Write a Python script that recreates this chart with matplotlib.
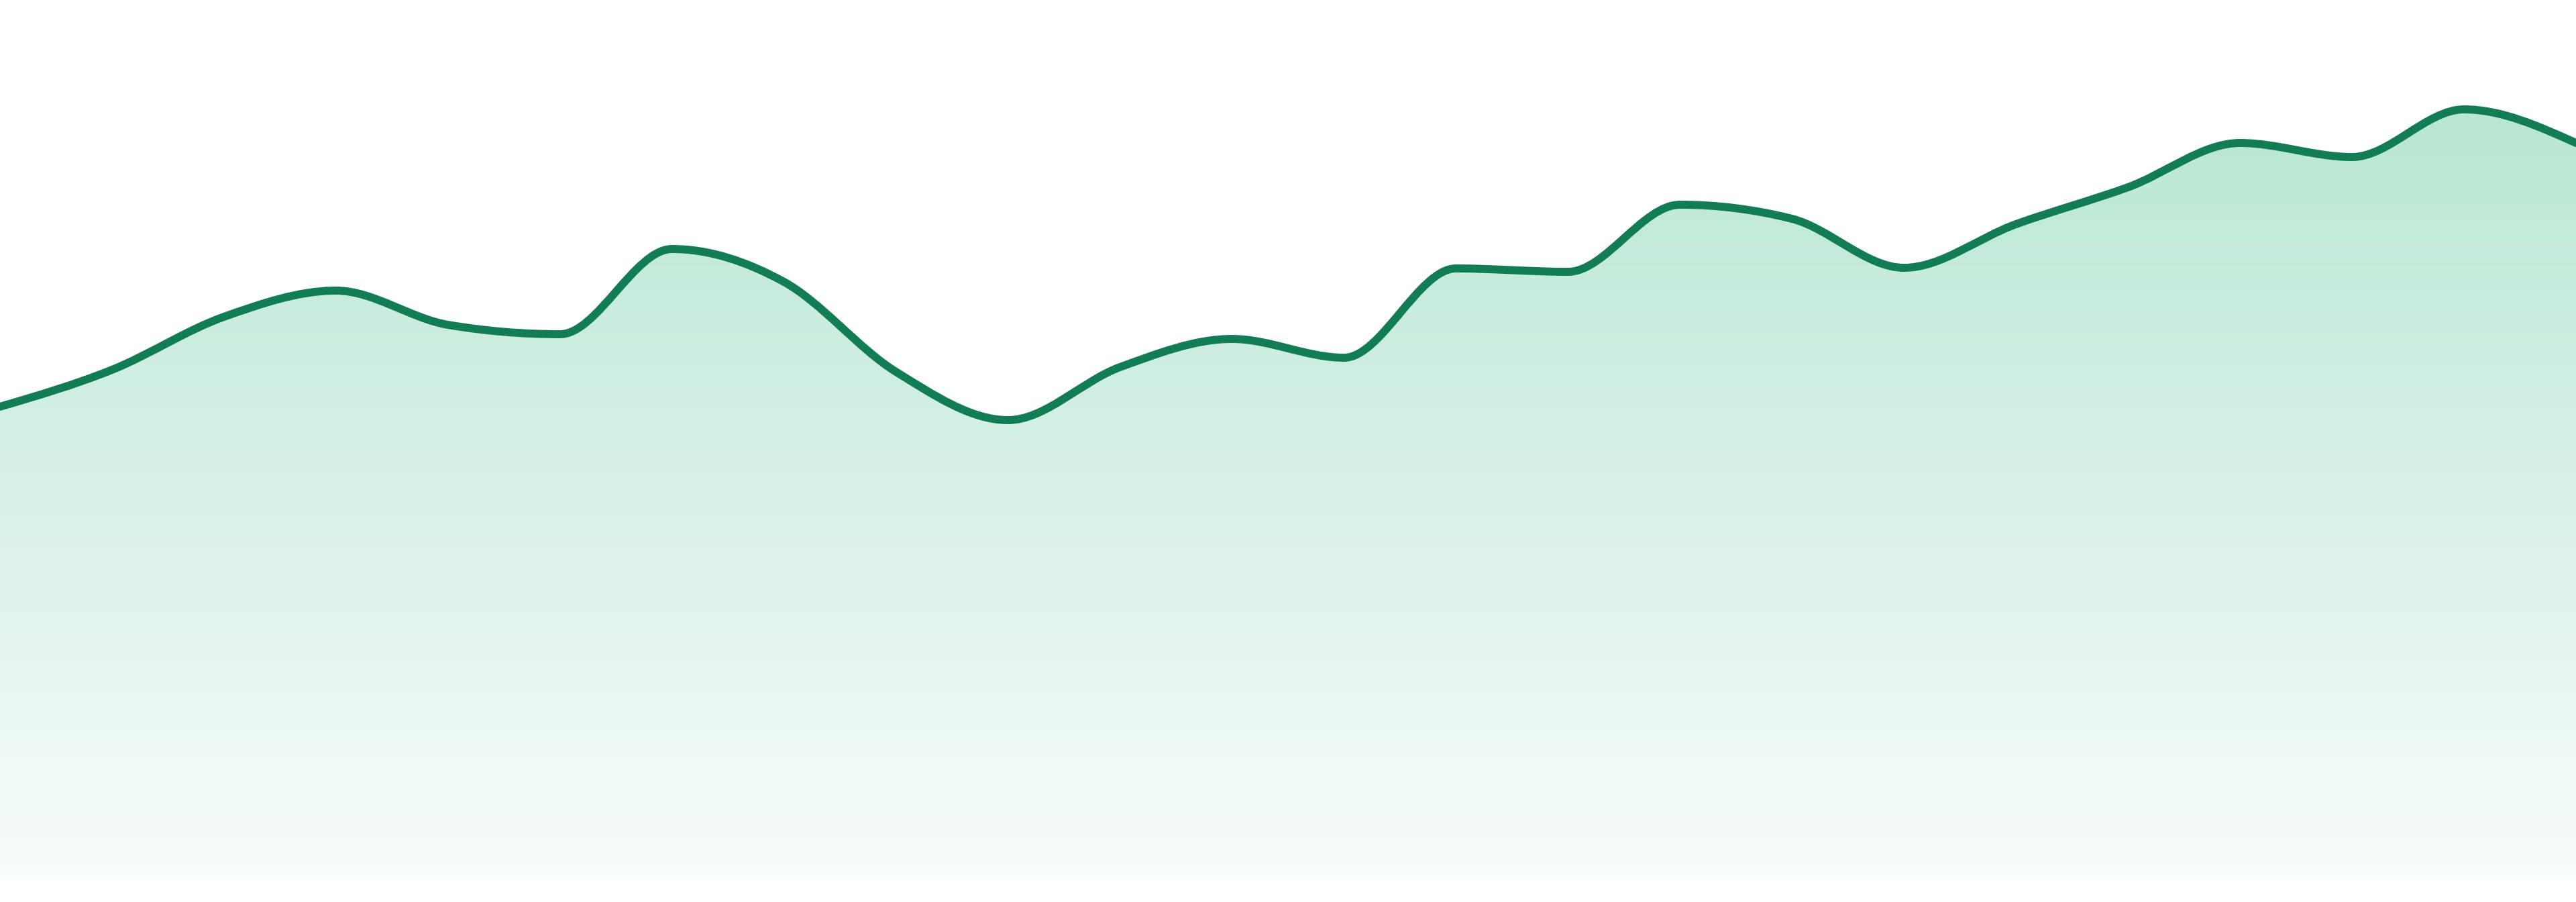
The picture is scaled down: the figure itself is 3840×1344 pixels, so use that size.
import numpy as np
import matplotlib
matplotlib.use("Agg")
import matplotlib.pyplot as plt
from matplotlib.path import Path
from matplotlib.patches import PathPatch
from matplotlib.colors import to_rgb

# values, one per step (24 steps)
steps = list(range(24))
values = [69.9, 75.4, 83.3, 87.2, 82.1, 80.7, 93.4, 88.5, 75.1, 67.9, 75.8, 80.0,
          77.2, 90.5, 90.0, 100.0, 97.9, 90.6, 97.1, 102.6, 109.2, 107.1, 114.2, 109.2]

y_max = 130.5
line_color = "#127c52"
fill_top = "#b8e7d3"
fill_bottom = "#f8fcfa"


def monotone_slopes(x, y):
    "slopes like d3 curveMonotoneX (Steffen)"
    n = len(x)
    t = np.zeros(n)
    for i in range(1, n - 1):
        h0 = x[i] - x[i - 1]
        h1 = x[i + 1] - x[i]
        s0 = (y[i] - y[i - 1]) / h0
        s1 = (y[i + 1] - y[i]) / h1
        p = (s0 * h1 + s1 * h0) / (h0 + h1)
        t[i] = (np.sign(s0) + np.sign(s1)) * min(abs(s0), abs(s1), 0.5 * abs(p))
    h = x[1] - x[0]
    t[0] = (3 * (y[1] - y[0]) / h - t[1]) / 2
    h = x[-1] - x[-2]
    t[-1] = (3 * (y[-1] - y[-2]) / h - t[-2]) / 2
    return t


def curve_path(x, y, close_bottom=False):
    t = monotone_slopes(x, y)
    verts = [(x[0], y[0])]
    codes = [Path.MOVETO]
    for i in range(len(x) - 1):
        h = (x[i + 1] - x[i]) / 3
        verts += [(x[i] + h, y[i] + h * t[i]),
                  (x[i + 1] - h, y[i + 1] - h * t[i + 1]),
                  (x[i + 1], y[i + 1])]
        codes += [Path.CURVE4] * 3
    if close_bottom:
        verts += [(x[-1], 0), (x[0], 0), (x[0], y[0])]
        codes += [Path.LINETO, Path.LINETO, Path.CLOSEPOLY]
    return Path(verts, codes)


x = np.array(steps, dtype=float)
y = np.array(values, dtype=float)

fig = plt.figure(figsize=(38.4, 13.44), dpi=100)
# small white strip under the baseline, like the reference
ax = fig.add_axes([0, 39 / 1344, 1, 1305 / 1344])
ax.set_xlim(x[0], x[-1])
ax.set_ylim(0, y_max)
ax.axis("off")

# gradient under the curve
top = np.array(to_rgb(fill_top))
bottom = np.array(to_rgb(fill_bottom))
frac = np.linspace(0, 1, 512)[:, None]
grad = top * (1 - frac) + bottom * frac
grad = np.repeat(grad[:, None, :], 2, axis=1)
img = ax.imshow(grad, extent=[x[0], x[-1], 0, max(values)], aspect="auto",
                interpolation="bilinear", zorder=1)
area = PathPatch(curve_path(x, y, close_bottom=True), facecolor="none",
                 edgecolor="none", transform=ax.transData)
ax.add_patch(area)
img.set_clip_path(area)

# the line itself
line = PathPatch(curve_path(x, y), facecolor="none", edgecolor=line_color,
                 linewidth=8.6, zorder=3, capstyle="round", joinstyle="round")
ax.add_patch(line)

fig.savefig("out.png", dpi=100, facecolor="white")
